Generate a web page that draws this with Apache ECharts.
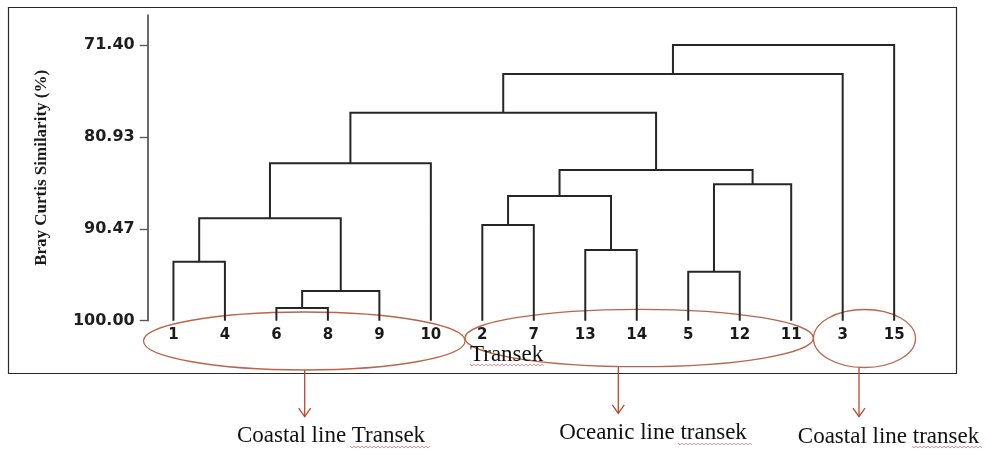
<!DOCTYPE html>
<html>
<head>
<meta charset="utf-8">
<title>Bray Curtis Similarity Dendrogram</title>
<script src="https://cdn.jsdelivr.net/npm/echarts@6/dist/echarts.min.js"></script>
<style>
  html, body { margin: 0; padding: 0; background: #ffffff; }
  #chart { width: 987px; height: 450px; }
</style>
</head>
<body>
<div id="chart"></div>
<script>
// Transect order along the bottom of the dendrogram
const leaves = ['1', '4', '6', '8', '9', '10', '2', '7', '13', '14', '5', '12', '11', '3', '15'];

// Agglomeration steps: [left member, right member, similarity (%)]
// members named 'cN' refer to the cluster formed in step N
const merges = [
  ['1', '4', 93.88],     // c0
  ['6', '8', 98.68],     // c1
  ['c1', '9', 96.92],    // c2
  ['c0', 'c2', 89.38],   // c3
  ['c3', '10', 83.67],   // c4
  ['2', '7', 90.07],     // c5
  ['13', '14', 92.67],   // c6
  ['c5', 'c6', 87.06],   // c7
  ['5', '12', 94.92],    // c8
  ['c8', '11', 85.85],   // c9
  ['c7', 'c9', 84.37],   // c10
  ['c4', 'c10', 78.42],  // c11
  ['c11', '3', 74.41],   // c12
  ['c12', '15', 71.40]   // c13
];

// Similarity tick labels
const simTicks = [71.40, 80.93, 90.47, 100.00];

// Group annotations below the tree
const groupNames = ['Coastal line Transek', 'Oceanic line transek', 'Coastal line transek'];
const axisTitle = 'Bray Curtis Similarity (%)';
const xTitle = 'Transek';

// Resolve each member to (position, height) and build link segments
const nodes = {};
leaves.forEach((name, i) => { nodes[name] = { x: i, h: 100 }; });
const links = merges.map((m, i) => {
  const a = nodes[m[0]], b = nodes[m[1]];
  nodes['c' + i] = { x: (a.x + b.x) / 2, h: m[2] };
  return [a.x, a.h, b.x, b.h, m[2]];
});

const chart = echarts.init(document.getElementById('chart'), null, { renderer: 'canvas' });

const lineColor = '#262626';
const ovalColor = '#b8654c';
const arrowColor = '#b9482a';
const serif = '"Liberation Serif", "Times New Roman", serif';
const sans = '"DejaVu Sans", Verdana, sans-serif';

function wavy(x0, x1, y) {
  const pts = [];
  let up = true;
  for (let x = x0; x <= x1; x += 2) { pts.push([x, up ? y - 1 : y + 1]); up = !up; }
  return {
    type: 'polyline', silent: true,
    shape: { points: pts },
    style: { stroke: '#e0707a', lineWidth: 0.8, fill: null }
  };
}

function arrow(x, y1, y2) {
  return [
    { type: 'line', silent: true, shape: { x1: x, y1: y1, x2: x, y2: y2 },
      style: { stroke: arrowColor, lineWidth: 1.3 } },
    { type: 'polyline', silent: true,
      shape: { points: [[x - 6, y2 - 8.5], [x, y2], [x + 6, y2 - 8.5]] },
      style: { stroke: arrowColor, lineWidth: 1.3, fill: null } }
  ];
}

const option = {
  animation: false,
  backgroundColor: '#ffffff',
  grid: { left: 147.7, right: 67.1, top: 15, bottom: 129.3, containLabel: false },
  xAxis: [
    {
      type: 'category',
      data: leaves,
      boundaryGap: true,
      axisLine: { show: false },
      axisTick: { show: false },
      axisLabel: {
        fontFamily: sans,
        fontWeight: 'bold',
        fontSize: 15,
        color: '#1a1a1a',
        margin: 7,
        interval: 0
      },
      splitLine: { show: false }
    },
    {
      type: 'value',
      min: -0.5,
      max: 14.5,
      show: false,
      splitLine: { show: false }
    }
  ],
  yAxis: {
    type: 'value',
    inverse: true,
    min: 68.29,
    max: 100,
    name: axisTitle,
    nameLocation: 'middle',
    nameRotate: 90,
    nameGap: 98,
    nameTextStyle: {
      fontFamily: serif,
      fontWeight: 'bold',
      fontSize: 17,
      color: '#1a1a1a'
    },
    axisLine: { show: true, onZero: false, lineStyle: { color: '#3a3a3a', width: 1.5 } },
    axisTick: { show: true, customValues: simTicks, length: 8, lineStyle: { color: '#555', width: 1.3 } },
    axisLabel: {
      customValues: simTicks,
      formatter: v => Number(v).toFixed(2),
      fontFamily: sans,
      fontWeight: 'bold',
      fontSize: 16,
      color: '#1e1e1e',
      margin: 13
    },
    splitLine: { show: false }
  },
  series: [
    {
      type: 'custom',
      xAxisIndex: 1,
      yAxisIndex: 0,
      clip: false,
      silent: true,
      data: links,
      encode: { x: [0, 2], y: [1, 3, 4] },
      renderItem: function (params, api) {
        const xl = api.value(0), hl = api.value(1);
        const xr = api.value(2), hr = api.value(3);
        const h = api.value(4);
        return {
          type: 'polyline',
          shape: {
            points: [
              api.coord([xl, hl]),
              api.coord([xl, h]),
              api.coord([xr, h]),
              api.coord([xr, hr])
            ]
          },
          style: { stroke: lineColor, lineWidth: 2, fill: null, lineJoin: 'miter' }
        };
      }
    }
  ],
  graphic: [
    // outer frame
    { type: 'rect', silent: true, shape: { x: 8.5, y: 7.5, width: 948, height: 366 },
      style: { stroke: '#2a2a2a', lineWidth: 1.2, fill: null } },
    // group ovals
    { type: 'ellipse', silent: true, shape: { cx: 304.3, cy: 341, rx: 160.8, ry: 29 },
      style: { stroke: ovalColor, lineWidth: 1.3, fill: null } },
    { type: 'ellipse', silent: true, shape: { cx: 639.2, cy: 338, rx: 174.2, ry: 28.7 },
      style: { stroke: ovalColor, lineWidth: 1.3, fill: null } },
    { type: 'ellipse', silent: true, shape: { cx: 864.5, cy: 338.5, rx: 51, ry: 29 },
      style: { stroke: ovalColor, lineWidth: 1.3, fill: null } },
    // axis title below leaves
    { type: 'text', silent: true, x: 470, y: 355,
      style: { text: xTitle, font: '23px ' + serif, fill: '#111', verticalAlign: 'middle', align: 'left' } },
    wavy(470, 545, 365),
    ...arrow(304.7, 370, 416.7),
    ...arrow(618.3, 366.7, 413.3),
    ...arrow(859, 367.7, 416.7),
    { type: 'text', silent: true, x: 331, y: 436,
      style: { text: groupNames[0], font: '23px ' + serif, fill: '#111', align: 'center', verticalAlign: 'middle' } },
    { type: 'text', silent: true, x: 653, y: 432.5,
      style: { text: groupNames[1], font: '23px ' + serif, fill: '#111', align: 'center', verticalAlign: 'middle' } },
    { type: 'text', silent: true, x: 888.5, y: 436.5,
      style: { text: groupNames[2], font: '23px ' + serif, fill: '#111', align: 'center', verticalAlign: 'middle' } },
    wavy(350, 430, 447),
    wavy(678, 752, 444),
    wavy(912, 983, 447)
  ]
};

chart.setOption(option);
</script>
</body>
</html>
